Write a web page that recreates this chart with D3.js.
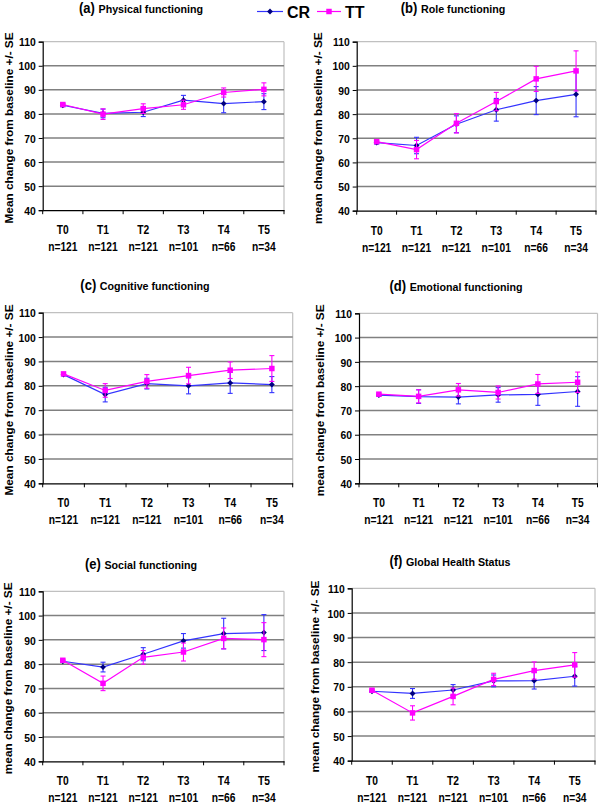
<!DOCTYPE html>
<html><head><meta charset="utf-8">
<script src="https://cdn.jsdelivr.net/npm/d3@7/dist/d3.min.js"></script>
<style>
body{margin:0;background:#fff;}
svg{display:block;}
</style></head>
<body>
<svg id="chart" width="600" height="804"></svg>
<script>
// ---------- data ----------
const timepoints = ["T0","T1","T2","T3","T4","T5"];
const sampleSizes = ["n=121","n=121","n=121","n=101","n=66","n=34"];
const yTicks = [40,50,60,70,80,90,100,110];
const seriesNames = ["CR","TT"];
const panelLetters = ["(a)","(b)","(c)","(d)","(e)","(f)"];
const panelTitles = ["Physical functioning","Role functioning","Cognitive functioning","Emotional functioning","Social functioning","Global Health Status"];
const yAxisTitles = ["Mean change from baseline +/- SE","mean change from baseline +/- SE","Mean change from baseline +/- SE","mean change from baseline +/- SE","mean change from baseline +/- SE","mean change from baseline +/- SE"];

const crPhysical   = [83.6, 80.2, 80.7, 85.7, 84.3, 85.1];
const crPhysicalSE = [0.6, 1.8, 1.8, 2.0, 3.8, 3.3];
const ttPhysical   = [83.9, 79.9, 82.2, 83.8, 88.9, 90.2];
const ttPhysicalSE = [0.6, 2.2, 2.0, 1.9, 1.9, 2.7];

const crRole   = [68.2, 67.0, 75.8, 81.8, 85.6, 88.2];
const crRoleSE = [0.6, 3.4, 3.5, 4.7, 5.8, 9.3];
const ttRole   = [68.6, 65.3, 76.2, 85.2, 94.6, 97.9];
const ttRoleSE = [0.6, 3.8, 4.0, 3.8, 5.2, 8.3];

const crCognitive   = [84.6, 76.4, 80.9, 80.0, 81.2, 80.5];
const crCognitiveSE = [0.5, 3.0, 2.2, 3.3, 4.3, 3.3];
const ttCognitive   = [84.9, 78.1, 81.8, 84.2, 86.4, 87.1];
const ttCognitiveSE = [0.5, 2.8, 2.8, 3.4, 3.4, 5.3];

const crEmotional   = [76.3, 75.7, 75.5, 76.4, 76.6, 77.8];
const crEmotionalSE = [0.5, 2.8, 2.8, 3.0, 4.5, 6.1];
const ttEmotional   = [76.7, 75.8, 78.5, 77.4, 80.9, 81.6];
const ttEmotionalSE = [0.5, 2.7, 2.6, 2.7, 3.9, 4.2];

const crSocial   = [81.2, 78.8, 84.1, 89.6, 92.6, 93.0];
const crSocialSE = [0.5, 2.0, 2.7, 3.0, 6.3, 7.4];
const ttSocial   = [81.6, 72.1, 82.8, 85.0, 90.6, 90.1];
const ttSocialSE = [0.5, 3.0, 2.8, 3.7, 4.3, 7.0];

const crGlobal   = [68.2, 67.3, 68.7, 72.4, 72.5, 74.3];
const crGlobalSE = [0.5, 2.0, 2.2, 2.4, 3.4, 4.0];
const ttGlobal   = [68.6, 59.4, 66.1, 73.0, 76.6, 78.9];
const ttGlobalSE = [0.5, 2.9, 3.4, 2.5, 3.5, 5.0];

const crMeans = [crPhysical, crRole, crCognitive, crEmotional, crSocial, crGlobal];
const crSEs   = [crPhysicalSE, crRoleSE, crCognitiveSE, crEmotionalSE, crSocialSE, crGlobalSE];
const ttMeans = [ttPhysical, ttRole, ttCognitive, ttEmotional, ttSocial, ttGlobal];
const ttSEs   = [ttPhysicalSE, ttRoleSE, ttCognitiveSE, ttEmotionalSE, ttSocialSE, ttGlobalSE];

// ---------- layout ----------
const boxes = [
  {l:42.7, r:284,   t:41.7,  b:210.2, titleX:141, titleY:13,  yTitleX:9},
  {l:356.7,r:596,   t:41.7,  b:210.7, titleX:453, titleY:13,  yTitleX:318},
  {l:42.7, r:292.7, t:312.7, b:483.3, titleX:145, titleY:290, yTitleX:9},
  {l:359,  r:597.5, t:313.3, b:483.3, titleX:456, titleY:291, yTitleX:320},
  {l:42.7, r:284,   t:591.3, b:761.3, titleX:141, titleY:569, yTitleX:8},
  {l:351.7,r:595,   t:588.3, b:760.7, titleX:450, titleY:566, yTitleX:315}
];
const crLine = "#3333ff", crMark = "#000080";
const ttLine = "#ff00ff", ttMark = "#ff00ff";
const gridColor = "#808080", frameColor = "#c0c0c0";
const sans = "'Liberation Sans',Arial,sans-serif";

const svg = d3.select("#chart");

boxes.forEach((bx, i) => {
  const g = svg.append("g");
  const x = d3.scaleBand().domain(timepoints).range([bx.l, bx.r]).padding(0);
  const y = d3.scaleLinear().domain([40, 110]).range([bx.b, bx.t]);
  const cx = d => x(d) + x.bandwidth() / 2;

  // frame top/right
  g.append("line").attr("x1", bx.l).attr("x2", bx.r).attr("y1", y(110)).attr("y2", y(110))
    .attr("stroke", frameColor).attr("stroke-width", 1.2);
  g.append("line").attr("x1", bx.r).attr("x2", bx.r).attr("y1", y(110)).attr("y2", y(40))
    .attr("stroke", frameColor).attr("stroke-width", 1.2);
  // gridlines
  g.selectAll(".grid").data(yTicks.filter(v => v > 40 && v < 110)).enter().append("line")
    .attr("x1", bx.l).attr("x2", bx.r).attr("y1", d => y(d)).attr("y2", d => y(d))
    .attr("stroke", gridColor).attr("stroke-width", 1.5);

  // y axis
  const ya = g.append("g").attr("transform", `translate(${bx.l},0)`)
    .call(d3.axisLeft(y).tickValues(yTicks).tickSize(4).tickFormat(""));
  ya.select(".domain").attr("stroke", "#000").attr("stroke-width", 1.2);
  ya.selectAll(".tick line").attr("stroke", "#000");
  ya.selectAll(".tick").append("text")
    .attr("transform", "translate(-7,0) scale(0.9,1)")
    .attr("text-anchor", "end").attr("dy", "0.36em")
    .style("font-family", sans).style("font-weight", "bold").style("font-size", "11.5px")
    .attr("fill", "#000").text(d => d);

  // x axis
  const xa = g.append("g").attr("transform", `translate(0,${bx.b})`)
    .call(d3.axisBottom(x).tickSize(0).tickFormat(""));
  xa.select(".domain").attr("stroke", "#000").attr("stroke-width", 1.2);
  const bounds = timepoints.map(t => x(t)).concat([bx.r]);
  xa.selectAll(".bt").data(bounds).enter().append("line")
    .attr("x1", d => d).attr("x2", d => d).attr("y1", 0).attr("y2", 4).attr("stroke", "#000");
  const lab = xa.selectAll(".xl").data(timepoints).enter().append("text")
    .attr("transform", d => `translate(${cx(d)},0) scale(0.82,1)`)
    .attr("text-anchor", "middle")
    .style("font-family", sans).style("font-weight", "bold").style("font-size", "12.5px")
    .attr("fill", "#000");
  lab.append("tspan").attr("x", 0).attr("y", 24).text(d => d);
  lab.append("tspan").attr("x", 0).attr("y", 41).text((d, k) => sampleSizes[k]);

  // title
  const tt = g.append("text").attr("transform", `translate(${bx.titleX},${bx.titleY}) scale(0.93,1)`)
    .attr("text-anchor", "middle")
    .style("font-family", sans).style("font-weight", "bold").attr("fill", "#000");
  tt.append("tspan").style("font-size", "14px").text(panelLetters[i] + " ");
  tt.append("tspan").style("font-size", "11.5px").text(panelTitles[i]);

  // y title
  g.append("text").attr("transform", `translate(${bx.yTitleX + 4},${(bx.t + bx.b) / 2 + 2}) rotate(-90)`)
    .attr("text-anchor", "middle")
    .style("font-family", sans).style("font-weight", "bold").style("font-size", "11.8px")
    .attr("fill", "#000").text(yAxisTitles[i]);

  // series
  const drawSeries = (means, ses, lineColor, markColor, shape) => {
    const pts = timepoints.map((t, k) => ({t, v: means[k], se: ses[k]}));
    const eg = g.append("g");
    eg.selectAll("line.v").data(pts).enter().append("line")
      .attr("x1", d => cx(d.t)).attr("x2", d => cx(d.t))
      .attr("y1", d => y(d.v - d.se)).attr("y2", d => y(d.v + d.se))
      .attr("stroke", lineColor).attr("stroke-width", 1.1);
    [-1, 1].forEach(s => {
      eg.selectAll("line.c" + s).data(pts).enter().append("line")
        .attr("x1", d => cx(d.t) - 2.5).attr("x2", d => cx(d.t) + 2.5)
        .attr("y1", d => y(d.v + s * d.se)).attr("y2", d => y(d.v + s * d.se))
        .attr("stroke", lineColor).attr("stroke-width", 1.1);
    });
    g.append("path").datum(pts)
      .attr("d", d3.line().x(d => cx(d.t)).y(d => y(d.v)))
      .attr("fill", "none").attr("stroke", lineColor).attr("stroke-width", 1.2);
    g.selectAll(null).data(pts).enter().append("path")
      .attr("transform", d => `translate(${cx(d.t)},${y(d.v)})`)
      .attr("d", d3.symbol().type(shape).size(shape === d3.symbolSquare ? 30 : 22))
      .attr("fill", markColor);
  };
  drawSeries(crMeans[i], crSEs[i], crLine, crMark, d3.symbolDiamond2);
  drawSeries(ttMeans[i], ttSEs[i], ttLine, ttMark, d3.symbolSquare);
});

// legend
const leg = svg.append("g");
const legItems = [
  {name: seriesNames[0], x1: 257, x2: 283, tx: 287, lc: crLine, mc: crMark, shape: d3.symbolDiamond2},
  {name: seriesNames[1], x1: 317, x2: 341, tx: 345, lc: ttLine, mc: ttMark, shape: d3.symbolSquare}
];
legItems.forEach(it => {
  leg.append("line").attr("x1", it.x1).attr("x2", it.x2).attr("y1", 11.5).attr("y2", 11.5)
    .attr("stroke", it.lc).attr("stroke-width", 1.2);
  leg.append("path").attr("transform", `translate(${(it.x1 + it.x2) / 2},11.5)`)
    .attr("d", d3.symbol().type(it.shape).size(it.shape === d3.symbolSquare ? 30 : 22)).attr("fill", it.mc);
  leg.append("text").attr("x", it.tx).attr("y", 17.5)
    .style("font-family", sans).style("font-weight", "bold").style("font-size", "16px")
    .attr("fill", "#000").text(it.name);
});
</script>
</body></html>
